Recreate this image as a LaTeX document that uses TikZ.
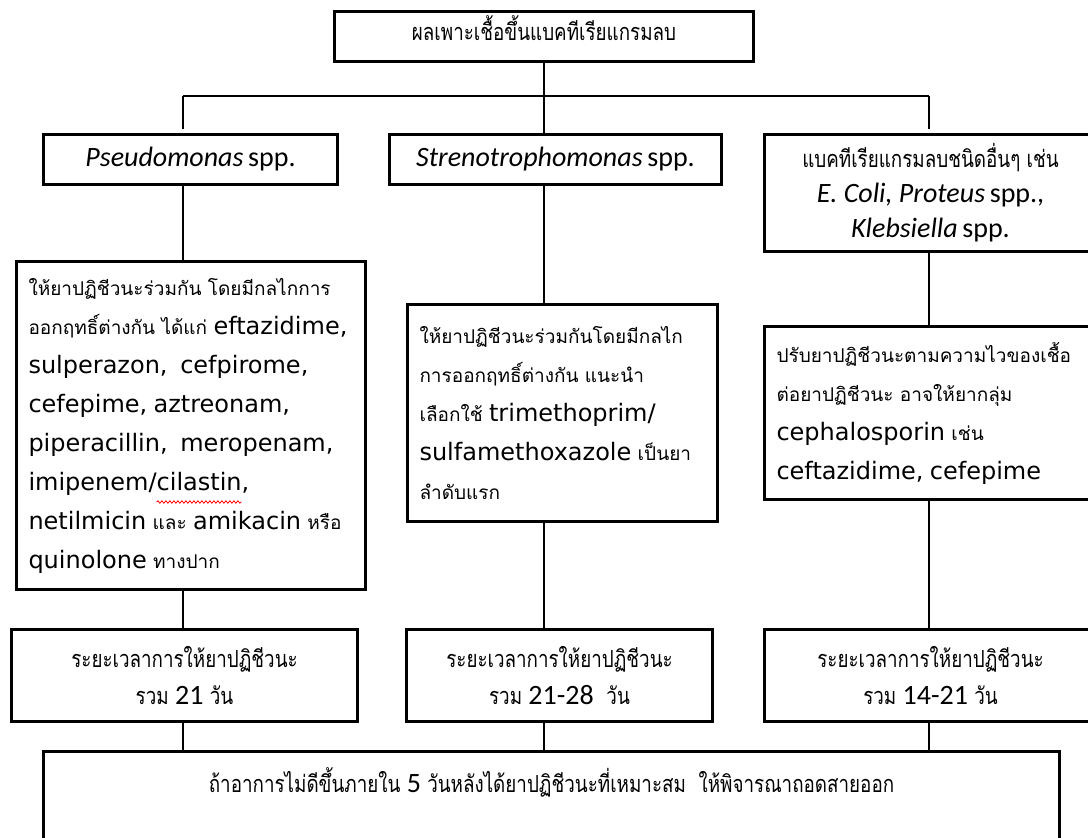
\documentclass[tikz,border=0pt]{standalone}
\usepackage{fontspec}
\setmainfont{Carlito}
\newfontfamily\thaifont[Script=Thai]{Loma}
\newfontfamily\thainarrow[Script=Thai,FakeStretch=0.8]{Loma}
\newfontfamily\drugfont{DejaVu Sans}
\newcommand\drsize{\fontsize{24}{39}\selectfont}
\newcommand\dr[1]{{\drugfont\drsize #1}}
\newcommand\num[1]{{\fontfamily{\rmdefault}\fontsize{28}{37}\selectfont #1}}
\usetikzlibrary{calc,decorations.pathmorphing}

\begin{document}
% widths used to place the spell-check mark under "cilastin"
\newlength\wstart \newlength\wlen
\settowidth\wstart{\drugfont\drsize imipenem/}
\settowidth\wlen{\drugfont\drsize cilastin}
\begin{tikzpicture}[x=1pt,y=-1pt,
  box/.style={draw, line width=3pt, rectangle, inner sep=0pt, anchor=north west},
  txtbox/.style={box, inner xsep=12pt, align=left},
  link/.style={line width=2.5pt},
  species/.style={font=\fontsize{28}{35}\selectfont},
  thaitext/.style={font=\thaifont\fontsize{19}{39}\selectfont},
  narrowthai/.style={font=\thainarrow\fontsize{23.5}{37}\selectfont},
  durbox/.style={box, align=center, narrowthai, minimum height=92}]
\useasboundingbox (0,0) rectangle (1088,838);

% top result box
\node[box, narrowthai, minimum width=419, minimum height=50,
      text height=18pt, text depth=10pt] (top) at (333,10)
  {ผลเพาะเชื้อขึ้นแบคทีเรียแกรมลบ};

% organism boxes
\node[box, species, minimum width=294, minimum height=50] (ps) at (42,133)
  {\textit{Pseudomonas}\,spp.};
\node[box, species, minimum width=332, minimum height=50] (st) at (388,133)
  {\textit{Strenotrophomonas}\,spp.};
\node[box, species, align=center, minimum width=332, minimum height=117] (ot) at (763,133)
  {{\thainarrow\fontsize{23.5}{35}\selectfont แบคทีเรียแกรมลบชนิดอื่นๆ เช่น}\\
   \textit{E. Coli, Proteus}\,spp.,\\
   \textit{Klebsiella}\,spp.};

% treatment boxes
\node[txtbox, thaitext, text width=325, minimum width=349, minimum height=328] (l2) at (15,260)
  {ให้ยาปฏิชีวนะร่วมกัน โดยมีกลไกการ\\
   ออกฤทธิ์ต่างกัน ได้แก่ \dr{eftazidime,}\\
   \dr{sulperazon,\ \ cefpirome,}\\
   \dr{cefepime, aztreonam,}\\
   \dr{piperacillin,\ \ meropenam,}\\
   \dr{imipenem/cilastin,}\\
   \dr{netilmicin} และ \dr{amikacin} หรือ\\
   \dr{quinolone} ทางปาก};
\node[txtbox, thaitext, text width=286, minimum width=306, minimum height=217] (m2) at (406,303)
  {ให้ยาปฏิชีวนะร่วมกันโดยมีกลไก\\
   การออกฤทธิ์ต่างกัน แนะนำ\\
   เลือกใช้ \dr{trimethoprim/}\\
   \dr{sulfamethoxazole} เป็นยา\\
   ลำดับแรก};
\node[txtbox, thaitext, text width=308, minimum width=332, minimum height=173] (r2) at (763,325)
  {ปรับยาปฏิชีวนะตามความไวของเชื้อ\\
   ต่อยาปฏิชีวนะ อาจให้ยากลุ่ม\\
   \dr{cephalosporin} เช่น\\
   \dr{ceftazidime, cefepime}};

% spell-check mark under cilastin
\draw[red, line width=0.8pt, decorate,
      decoration={snake, amplitude=1.2pt, segment length=4pt}]
  (28.5pt+\wstart,-502pt) -- ++(\wlen,0pt);

% duration boxes
\node[durbox, minimum width=346] (l3) at (10,628)
  {ระยะเวลาการให้ยาปฏิชีวนะ\\ รวม \num{21} วัน};
\node[durbox, minimum width=306] (m3) at (405,628)
  {ระยะเวลาการให้ยาปฏิชีวนะ\\ รวม \num{21-28}\ \ วัน};
\node[durbox, minimum width=332] (r3) at (763,628)
  {ระยะเวลาการให้ยาปฏิชีวนะ\\ รวม \num{14-21} วัน};

% final box
\node[box, minimum width=1016, minimum height=120,
      label={[anchor=north, yshift=-14pt, narrowthai]north:%
        ถ้าอาการไม่ดีขึ้นภายใน \num{5} วันหลังได้ยาปฏิชีวนะที่เหมาะสม\ \ ให้พิจารณาถอดสายออก}]
  (bot) at (42,750) {};

% connectors
\coordinate (busL) at (183,96);
\coordinate (busR) at (929,96);
\draw[link] (busL) -- (busR);
\draw[link] (top.south) -- (st.north -| top.south);
\draw[link, shorten >=4pt] (busL) -- (ps.north -| busL);
\draw[link, shorten >=4pt] (busR) -- (ot.north -| busR);

\draw[link] (ps.south -| busL) -- (l2.north -| busL);
\draw[link] (st.south -| top.south) -- (m2.north -| top.south);
\draw[link] (ot.south -| busR) -- (r2.north -| busR);

\draw[link] (l2.south -| busL) -- (l3.north -| busL);
\draw[link] (m2.south -| top.south) -- (m3.north -| top.south);
\draw[link] (r2.south -| busR) -- (r3.north -| busR);

\draw[link] (l3.south -| busL) -- (bot.north -| busL);
\draw[link] (m3.south -| top.south) -- (bot.north -| top.south);
\draw[link] (r3.south -| busR) -- (bot.north -| busR);
\end{tikzpicture}
\end{document}
